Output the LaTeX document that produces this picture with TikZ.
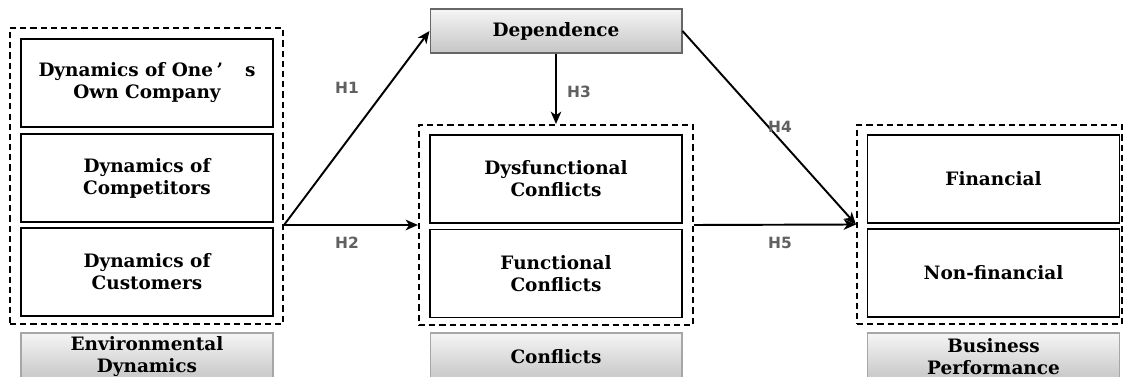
\documentclass[tikz,border=0pt]{standalone}
\usepackage{fontspec}
\usetikzlibrary{arrows.meta}
\setmainfont{DejaVu Serif}
\newfontfamily\hypfont{DejaVu Sans}
\begin{document}
\begin{tikzpicture}[x=0.02cm,y=-0.02cm,>={Stealth[length=7pt,width=6pt,inset=2pt]},
  item/.style={draw,line width=0.8pt,minimum width=5.04cm,minimum height=1.76cm,inner sep=0pt,
    align=center,font=\fontsize{10.5}{12.5}\selectfont\bfseries},
  group/.style={draw,line width=1.2pt,dash pattern=on 3.5pt off 2.3pt,inner sep=0pt},
  title/.style={draw=gray!70,line width=0.6pt,top color=gray!8,bottom color=gray!45,
    minimum width=5.04cm,minimum height=0.96cm,inner sep=0pt,
    align=center,font=\fontsize{10.5}{12.5}\selectfont\bfseries},
  hyp/.style={font=\hypfont\bfseries\fontsize{8.8}{10}\selectfont,text=gray!75!black},
  link/.style={->,line width=1.1pt}]
\useasboundingbox (0,0) rectangle (1125,377);
\clip (0,0) rectangle (1125,377);
% environmental dynamics
\node[group,minimum width=5.46cm,minimum height=5.92cm] (envgrp) at (146.5,176) {};
\node[item] (env1) at (147,83) {Dynamics of One\kern2pt’\hspace{1.2em}s\\Own Company};
\node[item] (env2) at (147,178) {Dynamics of\\Competitors};
\node[item] (env3) at (147,272) {Dynamics of\\Customers};
\node[title] (envtitle) at (147,357) {Environmental\\Dynamics};
% dependence and conflicts
\node[title,minimum height=0.88cm,draw=gray!80!black] (dep) at (556,31) {Dependence};
\node[group,minimum width=5.48cm,minimum height=4cm] (conflgrp) at (556,225) {};
\node[item] (confl1) at (556,179) {Dysfunctional\\Conflicts};
\node[item] (confl2) at (556,273.5) {Functional\\Conflicts};
\node[title] (confltitle) at (556,357) {Conflicts};
% business performance
\node[group,minimum width=5.3cm,minimum height=3.98cm] (perfgrp) at (989.5,224.5) {};
\node[item] (perf1) at (993.5,179) {Financial};
\node[item] (perf2) at (993.5,273) {Non-financial};
\node[title] (perftitle) at (993.5,357) {Business\\Performance};
% hypotheses
\coordinate (split) at (envgrp.east |- conflgrp.west);
\draw[link] (split) -- (dep.west);
\draw[link] (split) -- (conflgrp.west);
\draw[link] (dep) -- (conflgrp);
\draw[link] (dep.east) -- (perfgrp.west);
\draw[link] (conflgrp.east) -- (perfgrp.west);
\node[hyp] at (347,88) {H1};
\node[hyp] at (347,243) {H2};
\node[hyp] at (579,92) {H3};
\node[hyp] at (780,127) {H4};
\node[hyp] at (780,243) {H5};
\end{tikzpicture}
\end{document}
